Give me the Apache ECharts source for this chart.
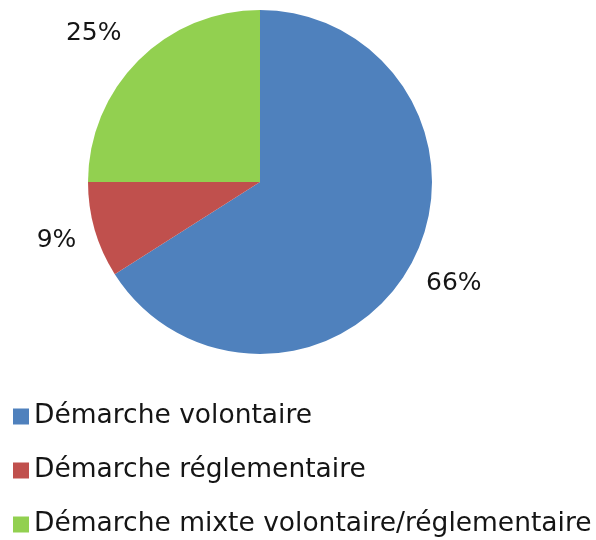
<!DOCTYPE html>
<html>
<head>
<meta charset="UTF-8">
<title></title>
<script src="https://cdn.jsdelivr.net/npm/echarts@6/dist/echarts.min.js"></script>
<style>
  html, body { margin: 0; padding: 0; background: #fff; }
  #main { width: 596px; height: 540px; }
</style>
</head>
<body>
<div id="main"></div>
<script>
// data
var categories = ['Démarche volontaire', 'Démarche réglementaire', 'Démarche mixte volontaire/réglementaire'];
var values = [66, 9, 25];
var colors = ['#4F81BD', '#C0504D', '#92D050'];

var chart = echarts.init(document.getElementById('main'));

var pieData = categories.map(function (name, i) {
    return { name: name, value: values[i], itemStyle: { color: colors[i] } };
});
// the top-left label sits a bit further out
pieData[2].label = { distanceToLabelLine: -10 };

chart.setOption({
    animation: false,
    legend: {
        orient: 'vertical',
        left: 13,
        top: 403,
        padding: 0,
        icon: 'rect',
        itemWidth: 16,
        itemHeight: 16,
        itemGap: 27,
        textStyle: {
            fontFamily: 'DejaVu Sans',
            fontSize: 26.5,
            lineHeight: 26,
            color: '#151515'
        },
        data: categories
    },
    series: [{
        type: 'pie',
        center: [260, 182],
        radius: 172,
        startAngle: 90,
        clockwise: true,
        avoidLabelOverlap: false,
        label: {
            show: true,
            position: 'outside',
            formatter: '{d}%',
            fontFamily: 'DejaVu Sans',
            fontSize: 25,
            color: '#151515',
            distanceToLabelLine: -18
        },
        labelLine: {
            show: false,
            length: 38,
            length2: 0
        },
        data: pieData
    }]
});
</script>
</body>
</html>
